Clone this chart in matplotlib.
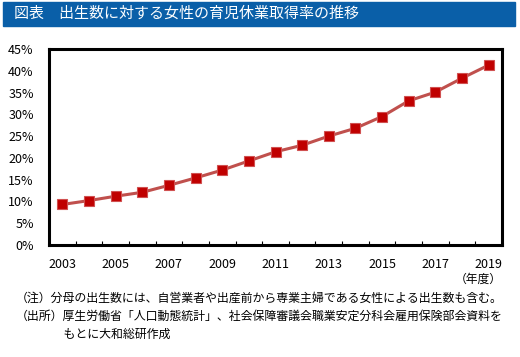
import matplotlib.pyplot as plt
from matplotlib.patches import Rectangle

plt.rcParams['font.family'] = ['Noto Sans CJK JP', 'DejaVu Sans']

years = list(range(2003, 2020))
rate = [9.3, 10.2, 11.2, 12.1, 13.7, 15.4, 17.2, 19.3, 21.4, 22.9,
        25.0, 26.8, 29.5, 33.1, 35.1, 38.3, 41.3]
yticks = list(range(0, 50, 5))
title = '図表　出生数に対する女性の育児休業取得率の推移'
notes = ['（注）分母の出生数には、自営業者や出産前から専業主婦である女性による出生数も含む。',
         '（出所）厚生労働省「人口動態統計」、社会保障審議会職業安定分科会雇用保険部会資料を',
         '　　　　もとに大和総研作成']

fig = plt.figure(figsize=(5.2, 3.57), dpi=100)
W, H = 520, 357

# title bar
fig.patches.append(Rectangle((3 / W, 1 - 26 / H), 512 / W, 24 / H,
                             transform=fig.transFigure, color='#0a5fa8', zorder=0))
fig.text(14 / W, 1 - 14 / H, title, color='white', fontsize=10.8, va='center')

ax = fig.add_axes([49 / W, 1 - 245 / H, 453 / W, 196 / H])
x = list(range(len(years)))
ax.plot(x, rate, color='#c0504d', lw=2.2, marker='s', ms=6.5,
        mfc='#c00000', mec='#d05050', mew=0.8)
ax.set_xlim(-0.5, len(years) - 0.5)
ax.set_ylim(0, 45)
ax.set_yticks(yticks)
ax.set_yticklabels([f'{v}%' for v in yticks])
ax.set_xticks(x[::2])
ax.set_xticklabels([str(y) for y in years[::2]])
ax.set_xticks([i + 0.5 for i in x[:-1]], minor=True)
ax.tick_params(axis='x', which='major', length=0, pad=9, labelsize=9)
ax.tick_params(axis='x', which='minor', direction='in', length=3, width=0.8)
ax.tick_params(axis='y', length=0, pad=11, labelsize=9)
for s in ax.spines.values():
    s.set_linewidth(2.2)
    s.set_color('black')

fig.text(502 / W, 1 - 279 / H, '（年度）', fontsize=8.5, ha='right', va='center')
for i, (t, yy) in enumerate(zip(notes, [298, 316, 334])):
    fig.text(16 / W, 1 - yy / H, t, fontsize=8.6, va='center')

fig.savefig('out.png', dpi=100)
